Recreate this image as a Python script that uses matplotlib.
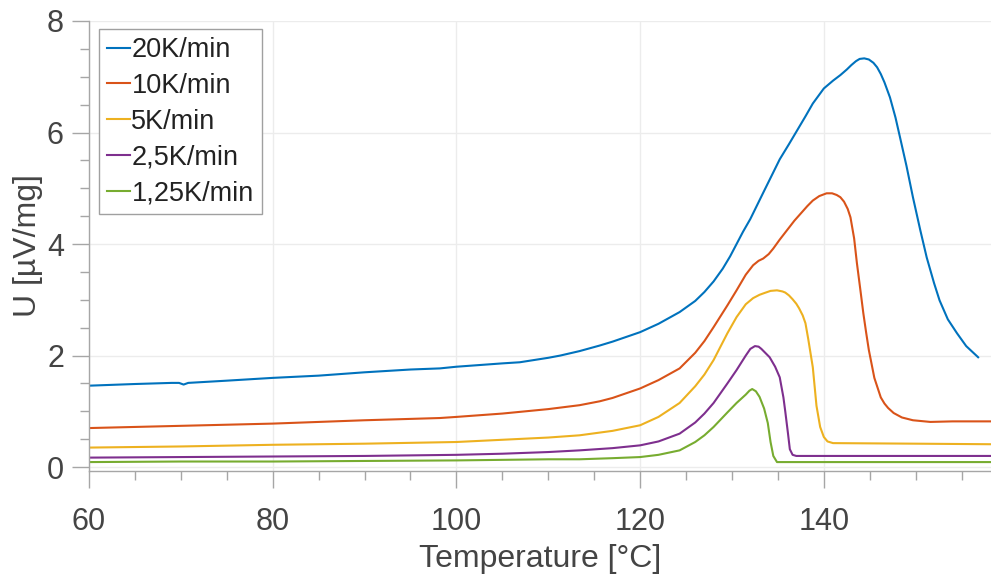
import matplotlib.pyplot as plt
from matplotlib.ticker import MultipleLocator

plt.rcParams['font.family'] = ['Liberation Sans', 'DejaVu Sans']

# Werte
t_20 = [60, 65, 69, 69.8, 70.3, 70.8, 75, 80, 85, 90, 95, 98.2, 100, 105, 106.9, 110, 111.3,
        113.4, 115.6, 117, 120, 122, 124.3, 126, 127, 128, 129, 129.8, 130.5, 131.2, 132, 133.4,
        135.2, 136.2, 137.1, 138, 138.8, 140, 141, 141.8, 142.5, 143, 143.5, 143.9, 144.4, 144.9,
        145.4, 145.8, 146.2, 146.6, 147.2, 147.8, 148.3, 149, 149.7, 150.5, 151.2, 152, 152.6,
        153.5, 154.5, 155.5, 156.8]
u_20 = [1.46, 1.49, 1.51, 1.51, 1.48, 1.51, 1.55, 1.60, 1.64, 1.70, 1.75, 1.77, 1.80, 1.86, 1.88, 1.96, 2.0,
        2.08, 2.18, 2.25, 2.42, 2.57, 2.78, 2.98, 3.14, 3.33, 3.56, 3.78, 4.0, 4.22, 4.45, 4.92,
        5.52, 5.79, 6.04, 6.29, 6.52, 6.79, 6.93, 7.03, 7.13, 7.21, 7.28, 7.32, 7.33, 7.31,
        7.25, 7.17, 7.05, 6.90, 6.63, 6.27, 5.91, 5.40, 4.84, 4.25, 3.76, 3.30, 2.99,
        2.65, 2.40, 2.17, 1.97]

t_10 = [60, 70, 80, 90, 98.2, 100, 105, 110, 113.4, 115.6, 117, 120, 122, 124.3, 126, 127, 128, 129.5,
        130.5, 131.5, 132.3, 132.9, 133.4, 134, 134.5, 135.2, 136, 136.8, 137.5, 138.2, 138.8, 139.5,
        140.3, 140.9, 141.4, 141.8, 142.2, 142.6, 142.9, 143.3, 143.6, 144, 144.3, 144.6, 144.9,
        145.5, 146.2, 146.6, 147, 147.6, 148.5, 149.7, 151.6, 154, 158.2]
u_10 = [0.70, 0.74, 0.78, 0.84, 0.88, 0.90, 0.96, 1.04, 1.11, 1.18, 1.24, 1.41, 1.56, 1.77, 2.05, 2.26, 2.51, 2.90,
        3.17, 3.45, 3.62, 3.70, 3.74, 3.82, 3.92, 4.08, 4.25, 4.42, 4.55, 4.68, 4.78, 4.86,
        4.91, 4.91, 4.88, 4.84, 4.76, 4.63, 4.48, 4.10, 3.66, 3.15, 2.76, 2.42, 2.10,
        1.60, 1.25, 1.14, 1.06, 0.97, 0.89, 0.84, 0.81, 0.82, 0.82]

t_5 = [60, 70, 80, 90, 100, 105, 110, 113.4, 117, 120, 122, 124.3, 126, 127, 128, 129.5, 130.5, 131.5,
       132.3, 133, 133.5, 134.2, 134.9, 135.5, 135.8, 136.2, 136.6, 137, 137.3, 137.7, 138, 138.3,
       138.8, 139.2, 139.6, 140, 140.4, 141, 150, 158.2]
u_5 = [0.35, 0.37, 0.40, 0.42, 0.45, 0.49, 0.53, 0.57, 0.65, 0.75, 0.90, 1.15, 1.45, 1.66, 1.92, 2.40, 2.69, 2.92,
       3.03, 3.09, 3.12, 3.16, 3.17, 3.15, 3.13, 3.08, 3.01, 2.93, 2.85, 2.72, 2.58, 2.30,
       1.79, 1.10, 0.72, 0.54, 0.46, 0.43, 0.42, 0.41]

t_25 = [60, 70, 80, 90, 100, 105, 110, 113.4, 117, 120, 122, 124.3, 126, 127, 128, 129.5, 130.5, 131.5,
        132, 132.5, 132.9, 133.2, 134.1, 134.7, 135.2, 135.6, 135.8, 136.1, 136.3, 136.6, 137, 158.2]
u_25 = [0.17, 0.18, 0.19, 0.20, 0.22, 0.24, 0.27, 0.30, 0.34, 0.39, 0.46, 0.60, 0.80, 0.96, 1.15, 1.50, 1.74, 2.0,
        2.12, 2.17, 2.16, 2.12, 1.97, 1.80, 1.61, 1.25, 1.0, 0.6, 0.32, 0.22, 0.20, 0.20]

t_125 = [60, 70, 80, 90, 100, 110, 113.4, 117, 120, 122, 124.3, 126, 127, 128, 129.5, 130.5, 131.5,
         131.9, 132.2, 132.6, 133, 133.5, 133.9, 134.2, 134.5, 134.9, 158.2]
u_125 = [0.09, 0.10, 0.10, 0.11, 0.12, 0.14, 0.14, 0.16, 0.18, 0.22, 0.30, 0.45, 0.57, 0.72, 0.98, 1.15, 1.30,
         1.37, 1.40, 1.36, 1.26, 1.05, 0.79, 0.45, 0.20, 0.09, 0.09]

labels = ['20K/min', '10K/min', '5K/min', '2,5K/min', '1,25K/min']
colors = ['#0072BD', '#D95319', '#EDB120', '#7E2F8E', '#77AC30']

fig = plt.figure(figsize=(9.91, 5.76), dpi=100)
ax = fig.add_axes([89 / 991, 1 - 471 / 576, 1 - 89 / 991, (471 - 21) / 576])

for t, u, lab, c in zip([t_20, t_10, t_5, t_25, t_125], [u_20, u_10, u_5, u_25, u_125], labels, colors):
    ax.plot(t, u, color=c, lw=1.5, label=lab)

ax.set_xlim(60, 158.2)
ax.set_ylim(-0.07, 8)
ax.xaxis.set_major_locator(MultipleLocator(20))
ax.xaxis.set_minor_locator(MultipleLocator(5))
ax.yaxis.set_major_locator(MultipleLocator(2))
ax.yaxis.set_minor_locator(MultipleLocator(0.5))

ax.grid(True, which='major', color='#ececec', lw=1)
ax.set_axisbelow(True)
for s in ['top', 'right']:
    ax.spines[s].set_visible(False)
for s in ['left', 'bottom']:
    ax.spines[s].set_color('#a6a6a6')
    ax.spines[s].set_linewidth(1)

ax.tick_params(which='major', direction='out', length=12, width=1, color='#a6a6a6',
               labelsize=22, labelcolor='#444444')
ax.tick_params(which='minor', direction='out', length=6.5, width=1, color='#a6a6a6')
ax.tick_params(axis='x', which='major', pad=14)
ax.tick_params(axis='y', which='major', pad=6)

ax.set_xlabel('Temperature [°C]', fontsize=23, color='#444444', labelpad=5)
ax.set_ylabel('U [µV/mg]', fontsize=23, color='#444444', labelpad=3)

leg = ax.legend(loc='upper left', bbox_to_anchor=(0.011, 0.982), fontsize=19.5, fancybox=False,
                framealpha=1, edgecolor='#a0a0a0', handlelength=0.85, handletextpad=0.05,
                labelspacing=0.36, borderpad=0.3, borderaxespad=0)
leg.get_frame().set_linewidth(1)
for txt in leg.get_texts():
    txt.set_color('#222222')

fig.savefig('out.png', dpi=100)
